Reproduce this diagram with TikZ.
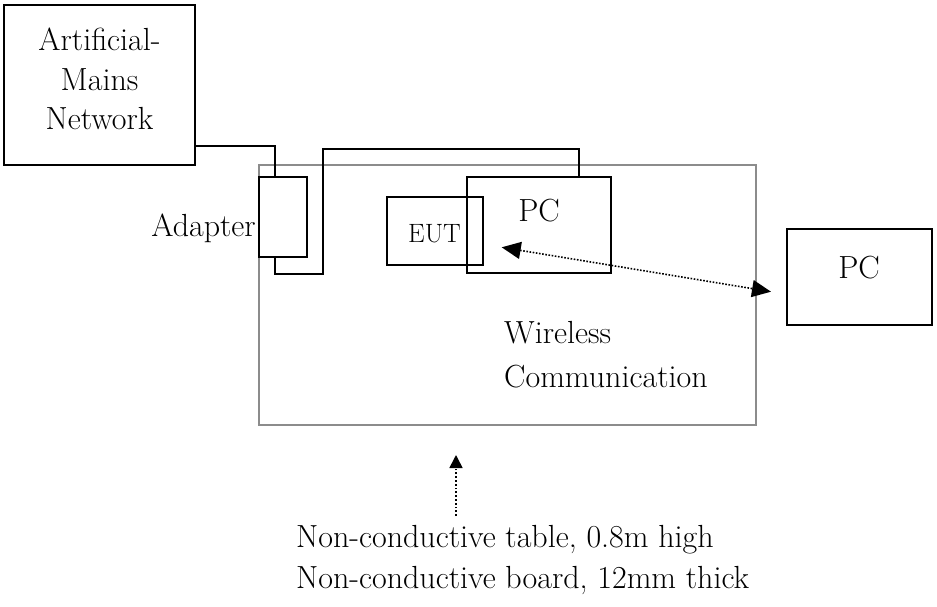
\documentclass[tikz,border=0pt]{standalone}
\usetikzlibrary{arrows.meta}
\definecolor{tablegray}{RGB}{140,140,140}
\newcommand\mainsz{\fontsize{32}{38}\selectfont}
\newcommand\smallsz{\fontsize{26.5}{31}\selectfont}
\tikzset{
  box/.style={draw=black, line width=2.2pt, rectangle},
  tablebox/.style={draw=tablegray, line width=2pt, rectangle},
  wire/.style={draw=black, line width=2.2pt},
  txt/.style={inner sep=0pt, font=\mainsz},
  radio/.style={line width=1.6pt, dash pattern=on 1.6pt off 1.6pt,
    {Triangle[length=19pt,width=17pt]}-{Triangle[length=19pt,width=17pt]}},
  pointer/.style={line width=1.6pt, dash pattern=on 1.8pt off 2pt,
    -{Triangle[length=13pt,width=13pt]}}
}
\begin{document}
\begin{tikzpicture}[x=1pt,y=-1pt]
\useasboundingbox (0,0) rectangle (937,606);
% table
\node[tablebox, inner sep=0pt, minimum width=496.7pt, minimum height=259.5pt] (table) at (507.35,294.75) {};
% boxes
\node[box, inner sep=0pt, minimum width=191.3pt, minimum height=160pt] (amn) at (99.65,85) {};
\node[box, inner sep=0pt, minimum width=47.4pt, minimum height=80pt] (adp) at (283,216.7) {};
\node[box, inner sep=0pt, minimum width=96.6pt, minimum height=68.3pt] (eut) at (435,230.85) {};
\node[box, inner sep=0pt, minimum width=143.7pt, minimum height=96pt] (pcA) at (539.15,224.7) {};
\node[box, inner sep=0pt, minimum width=144.4pt, minimum height=96pt] (pcB) at (859.5,277) {};
% texts
\node[txt, anchor=base] (amnA) at (99.5,50) {Artificial-};
\node[txt, anchor=base] (amnB) at (99.5,90) {Mains};
\node[txt, anchor=base] (amnC) at (99.5,129.5) {Network};
\node[txt, anchor=base east] (adpT) at (256,236) {Adapter};
\node[inner sep=0pt, font=\smallsz, anchor=base] (eutT) at (434.5,242) {EUT};
\node[txt, anchor=base] (pcAT) at (539,221.7) {PC};
\node[txt, anchor=base] (pcBT) at (859,278) {PC};
\node[txt, anchor=base west] (wl1) at (504,343) {Wireless};
\node[txt, anchor=base west] (wl2) at (504,387) {Communication};
\node[txt, anchor=base west] (nc1) at (296,547) {Non-conductive table, 0.8m high};
\node[txt, anchor=base west] (nc2) at (296,588) {Non-conductive board, 12mm thick};
% wires
\draw[wire] ([yshift=20pt]amn.south east) -| ([xshift=-8.3pt]adp.north);
\draw[wire] ([xshift=-8.3pt]adp.south) -- ++(0,16) -| (322.7,149.3) -| ([xshift=39.8pt]pcA.north);
% wireless link
\coordinate (linkL) at (501.7,247.3);
\coordinate (linkR) at (771,291.7);
\draw[radio] (linkL) -- (linkR);
% pointer to table
\coordinate (ptrFrom) at (456,516);
\coordinate (ptrTo) at (456,455);
\draw[pointer] (ptrFrom) -- (ptrTo);
\end{tikzpicture}
\end{document}
